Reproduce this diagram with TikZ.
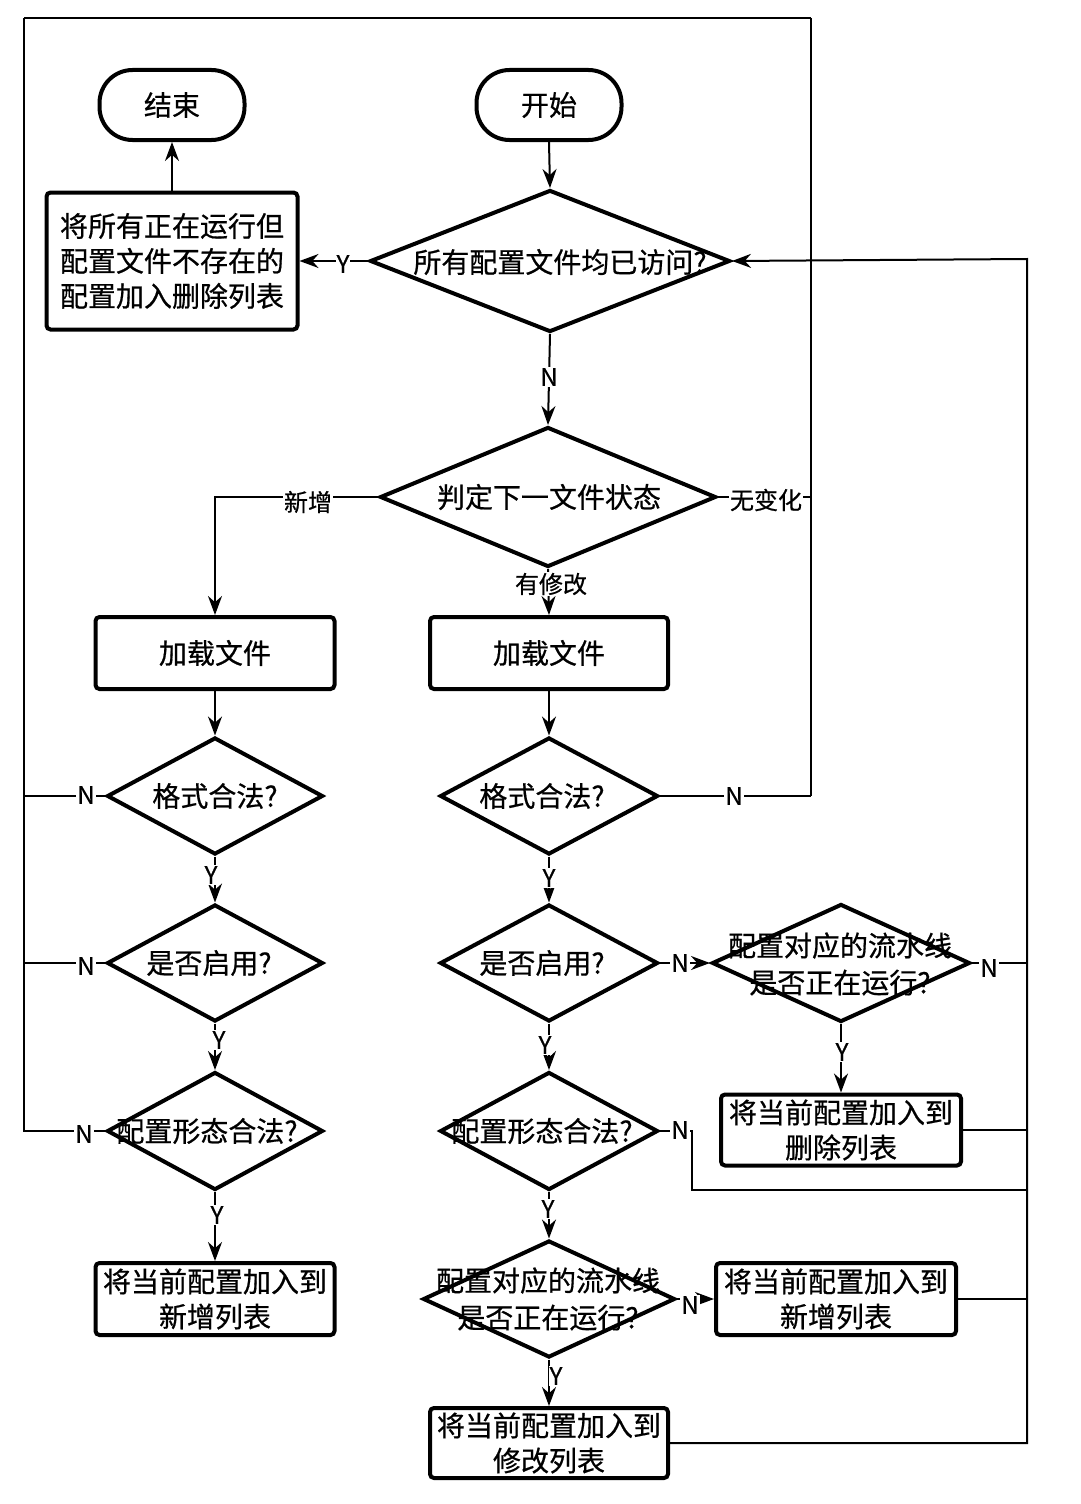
\documentclass[tikz,border=0pt]{standalone}
\usepackage{fontspec}
\setmainfont{Noto Sans CJK SC}[FakeBold=0.6]
\usetikzlibrary{shapes.geometric,arrows.meta}
\begin{document}
\begin{tikzpicture}[x=1pt,y=-1pt,
 base/.style={draw=black, line width=4pt, inner sep=0pt, fill=white},
 procbox/.style={base, rectangle, rounded corners=4pt, font=\fontsize{28pt}{35pt}\selectfont, align=center},
 term/.style={base, rectangle, rounded corners=33pt, minimum width=145pt, minimum height=70pt, font=\fontsize{28pt}{35pt}\selectfont},
 dia/.style={base, diamond},
 txt/.style={font=\fontsize{28pt}{37pt}\selectfont, align=center, inner sep=0pt},
 lbl/.style={font=\fontsize{24pt}{28pt}\selectfont, fill=white, inner sep=1pt},
 conn/.style={line width=2pt},
 arr/.style={conn, -{Stealth[length=19pt,width=14pt]}}]
\useasboundingbox (0,0) rectangle (1080,1504);
\fill[white] (0,0) rectangle (1080,1504);

% loop coordinates
\coordinate (L) at (24,18);
\coordinate (M) at (811,18);
\coordinate (R) at (1027,259);
\coordinate (K) at (692,1190);

% left/top loop lines (drawn first)
\draw[conn] (M) -- (L);
\draw[conn] (M) -- (M |- 0,796);

% nodes
\node[term] (end) at (172,105) {结束};
\node[term] (start) at (549,105) {开始};
\node[dia, minimum width=360pt, minimum height=142pt] (d1) at (550,261) {};
\node[procbox, minimum width=251pt, minimum height=137pt] (delall) at (172,261) {将所有正在运行但\\配置文件不存在的\\配置加入删除列表};
\node[dia, minimum width=336pt, minimum height=140pt] (d2) at (548,497) {};
\node[procbox, minimum width=239pt, minimum height=72pt] (loadl) at (215,653) {加载文件};
\node[procbox, minimum width=238pt, minimum height=72pt] (loadr) at (549,653) {加载文件};
\node[dia, minimum width=216pt, minimum height=117pt] (fl) at (215,796) {};
\node[dia, minimum width=218pt, minimum height=117pt] (fr) at (549,796) {};
\node[dia, minimum width=216pt, minimum height=117pt] (el) at (215,963) {};
\node[dia, minimum width=218pt, minimum height=117pt] (er) at (549,963) {};
\node[dia, minimum width=258pt, minimum height=118pt] (run1) at (841,963) {};
\node[dia, minimum width=216pt, minimum height=118pt] (cl) at (215,1131) {};
\node[dia, minimum width=218pt, minimum height=118pt] (cr) at (549,1131) {};
\node[procbox, minimum width=240pt, minimum height=71pt] (delbox) at (841,1130) {将当前配置加入到\\删除列表};
\node[procbox, minimum width=239pt, minimum height=72pt] (newl) at (215,1299) {将当前配置加入到\\新增列表};
\node[dia, minimum width=252pt, minimum height=117pt] (run2) at (549,1299) {};
\node[procbox, minimum width=240pt, minimum height=72pt] (newr) at (836,1299) {将当前配置加入到\\新增列表};
\node[procbox, minimum width=238pt, minimum height=70pt] (modbox) at (549,1443) {将当前配置加入到\\修改列表};

% diamond texts
\node[txt] (d1t) at (560,262) {所有配置文件均已访问?};
\node[txt] (d2t) at (549,497) {判定下一文件状态};
\node[txt] (flt) at (215,796) {格式合法?};
\node[txt] (frt) at (542,796) {格式合法?};
\node[txt] (elt) at (209,963) {是否启用?};
\node[txt] (ert) at (542,963) {是否启用?};
\node[txt] (run1t) at (840,964) {配置对应的流水线\\是否正在运行?};
\node[txt] (clt) at (207,1131) {配置形态合法?};
\node[txt] (crt) at (542,1131) {配置形态合法?};
\node[txt] (run2t) at (548,1299) {配置对应的流水线\\是否正在运行?};

% connectors
\draw[arr] (start.south) -- (d1.north);
\draw[arr] (d1.west) -- (delall.east);
\draw[arr] (delall.north) -- (end.south);
\draw[arr] (d1.south) -- (d2.north);
\draw[arr] (d2.west) -| (loadl.north);
\draw[arr] (d2.south) -- (loadr.north);
\draw[conn] (d2.east) -- (d2.east -| M);
\draw[arr] (loadl.south) -- (fl.north);
\draw[arr] (loadr.south) -- (fr.north);
\draw[conn] (fr.east) -- (fr.east -| M);
\draw[conn] (fl.west) -- (fl.west -| L);
\draw[conn] (el.west) -- (el.west -| L);
\draw[conn] (L) |- (cl.west);
\draw[arr] (fl.south) -- (el.north);
\draw[arr] (fr.south) -- (er.north);
\draw[arr] (er.east) -- (run1.west);
\draw[arr] (run1.south) -- (delbox.north);
\draw[conn] (run1.east) -- (run1.east -| R);
\draw[arr] (el.south) -- (cl.north);
\draw[arr] (er.south) -- (cr.north);
\draw[conn] (delbox.east) -- (delbox.east -| R);
\draw[conn] (cr.east) -| (K) -- (K -| R);
\draw[arr] (cl.south) -- (newl.north);
\draw[arr] (cr.south) -- (run2.north);
\draw[arr] (run2.east) -- (newr.west);
\draw[conn] (newr.east) -- (newr.east -| R);
\draw[arr] (run2.south) -- (modbox.north);
\draw[arr] (modbox.east) -| (R) -- (d1.east);

% labels
\node[lbl] (ly1) at (343,264) {Y};
\node[lbl] (ln1) at (549,377) {N};
\node[lbl] (lxz) at (308,502) {新增};
\node[lbl] (lwb) at (766,500) {无变化};
\node[lbl] (lyx) at (551,584) {有修改};
\node[lbl] (ln2) at (86,795) {N};
\node[lbl] (ln3) at (734,796) {N};
\node[lbl] (ly2) at (211,875) {Y};
\node[lbl] (ly3) at (549,878) {Y};
\node[lbl] (ln4) at (86,966) {N};
\node[lbl] (ln5) at (680,963) {N};
\node[lbl] (ln6) at (989,968) {N};
\node[lbl] (ly4) at (219,1040) {Y};
\node[lbl] (ly5) at (545,1045) {Y};
\node[lbl] (ly6) at (842,1052) {Y};
\node[lbl] (ln7) at (84,1134) {N};
\node[lbl] (ln8) at (680,1130) {N};
\node[lbl] (ly7) at (217,1215) {Y};
\node[lbl] (ly8) at (548,1209) {Y};
\node[lbl] (ln9) at (690,1305) {N};
\node[lbl] (ly9) at (556,1376) {Y};
\end{tikzpicture}
\end{document}
